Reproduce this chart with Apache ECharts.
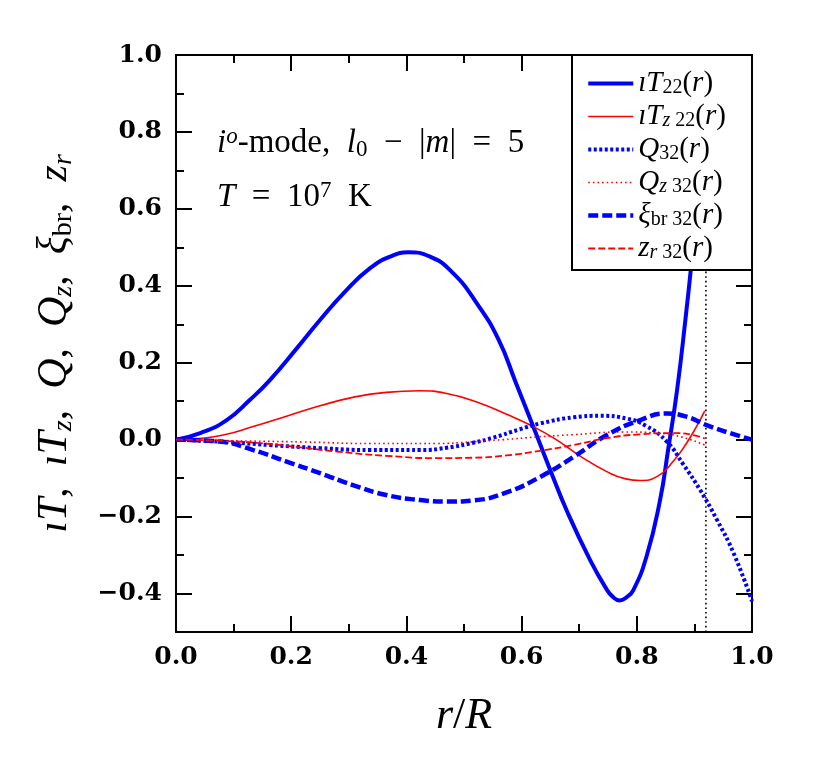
<!DOCTYPE html>
<html><head><meta charset="utf-8">
<script src="https://cdn.jsdelivr.net/npm/echarts@6/dist/echarts.min.js"></script>
<style>html,body{margin:0;padding:0;background:#fff}#c{width:830px;height:760px}</style>
</head><body><div id="c"></div>
<script>
// ---- data ----
const r_iT22 = [0, 0.042, 0.088, 0.128, 0.163, 0.21, 0.25, 0.296, 0.337, 0.372, 0.403, 0.441, 0.481, 0.522, 0.56, 0.59, 0.62, 0.65, 0.68, 0.719, 0.748, 0.758, 0.77, 0.782, 0.794, 0.817, 0.84, 0.855, 0.87, 0.885, 0.895, 0.905, 0.918];
const v_iT22 = [0, 0.017, 0.051, 0.103, 0.155, 0.238, 0.311, 0.389, 0.446, 0.476, 0.487, 0.476, 0.433, 0.355, 0.26, 0.148, 0.035, -0.08, -0.19, -0.313, -0.39, -0.408, -0.418, -0.41, -0.391, -0.303, -0.16, -0.02, 0.13, 0.32, 0.46, 0.61, 0.82];

const r_iTz22 = [0, 0.04, 0.082, 0.134, 0.192, 0.25, 0.307, 0.365, 0.424, 0.47, 0.522, 0.574, 0.615, 0.658, 0.701, 0.748, 0.781, 0.806, 0.835, 0.864, 0.886, 0.904, 0.918];
const v_iTz22 = [0, 0.003, 0.012, 0.034, 0.061, 0.088, 0.11, 0.123, 0.127, 0.12, 0.098, 0.066, 0.038, 0.002, -0.042, -0.083, -0.102, -0.106, -0.096, -0.055, -0.01, 0.035, 0.075];

const r_Q32 = [0, 0.076, 0.163, 0.25, 0.337, 0.424, 0.47, 0.516, 0.55, 0.597, 0.632, 0.69, 0.736, 0.782, 0.817, 0.852, 0.881, 0.91, 0.939, 0.968, 1.0];
const v_Q32 = [0, -0.005, -0.014, -0.022, -0.027, -0.027, -0.021, -0.008, 0.005, 0.027, 0.042, 0.058, 0.062, 0.055, 0.035, -0.005, -0.065, -0.131, -0.208, -0.295, -0.42];

const r_Qz32 = [0, 0.105, 0.221, 0.337, 0.453, 0.51, 0.568, 0.626, 0.69, 0.777, 0.835, 0.875, 0.918];
const v_Qz32 = [0, -0.003, -0.006, -0.01, -0.01, -0.006, 0.0, 0.007, 0.013, 0.02, 0.017, 0.008, -0.014];

const r_xibr32 = [0, 0.076, 0.134, 0.192, 0.25, 0.307, 0.365, 0.424, 0.47, 0.516, 0.574, 0.632, 0.69, 0.748, 0.806, 0.852, 0.886, 0.921, 0.962, 1.0];
const v_xibr32 = [0, -0.005, -0.027, -0.057, -0.087, -0.118, -0.144, -0.157, -0.161, -0.158, -0.137, -0.097, -0.045, 0.012, 0.051, 0.068, 0.06, 0.038, 0.017, 0.0];

const r_zr32 = [0, 0.105, 0.192, 0.279, 0.365, 0.453, 0.516, 0.574, 0.632, 0.69, 0.748, 0.806, 0.864, 0.898, 0.918];
const v_zr32 = [0, -0.005, -0.016, -0.031, -0.042, -0.048, -0.047, -0.041, -0.029, -0.014, 0.004, 0.014, 0.017, 0.012, 0.003];

const r_boundary = 0.92;           // vertical dotted line
const yMajorTicks = [-0.4, -0.2, 0.0, 0.2, 0.4, 0.6, 0.8, 1.0];
const yMinorTicks = [-0.5, -0.3, -0.1, 0.1, 0.3, 0.5, 0.7, 0.9];
const xRange = [0, 1];
const yRange = [-0.5, 1.0];

// ---- helpers ----
const zip = (a, b) => a.map((x, i) => [x, b[i]]);
const SERIF = "'Liberation Serif', 'DejaVu Serif', serif";
const BOLD = "'DejaVu Serif', serif";
const fmt = v => (v < -1e-9 ? '\u2212' : '') + Math.abs(v).toFixed(1);

function richSet(fs, lh, sfs) {
  const sl = Math.round(sfs * 0.6);
  return {
    i: {fontFamily: SERIF, fontStyle: 'italic', fontSize: fs, lineHeight: lh, color: '#000'},
    n: {fontFamily: SERIF, fontSize: fs, lineHeight: lh, color: '#000'},
    s: {fontFamily: SERIF, fontSize: sfs, lineHeight: sl, verticalAlign: 'bottom', color: '#000'},
    si: {fontFamily: SERIF, fontStyle: 'italic', fontSize: sfs, lineHeight: sl, verticalAlign: 'bottom', color: '#000'},
    p: {fontFamily: SERIF, fontSize: sfs, lineHeight: sl, verticalAlign: 'top', color: '#000'},
    pi: {fontFamily: SERIF, fontStyle: 'italic', fontSize: sfs, lineHeight: sl, verticalAlign: 'top', color: '#000'}
  };
}

const labels = {
  iT22: '{i|\u0131T}{s|22}{n|(}{i|r}{n|)}',
  iTz22: '{i|\u0131T}{si|z}{s| 22}{n|(}{i|r}{n|)}',
  Q32: '{i|Q}{s|32}{n|(}{i|r}{n|)}',
  Qz32: '{i|Q}{si|z}{s| 32}{n|(}{i|r}{n|)}',
  xibr32: '{i|\u03BE}{s|br 32}{n|(}{i|r}{n|)}',
  zr32: '{i|z}{si|r}{s| 32}{n|(}{i|r}{n|)}'
};

const styles = {
  iT22: {color: '#0000ff', width: 4, type: 'solid'},
  iTz22: {color: '#ff0000', width: 1.6, type: 'solid'},
  Q32: {color: '#0000ff', width: 4, type: [3, 2.5]},
  Qz32: {color: '#ff0000', width: 1.6, type: [1.6, 3]},
  xibr32: {color: '#0000ff', width: 4.5, type: [10, 4]},
  zr32: {color: '#ff0000', width: 1.8, type: [7, 3]}
};
const seriesData = {
  iT22: zip(r_iT22, v_iT22),
  iTz22: zip(r_iTz22, v_iTz22),
  Q32: zip(r_Q32, v_Q32),
  Qz32: zip(r_Qz32, v_Qz32),
  xibr32: zip(r_xibr32, v_xibr32),
  zr32: zip(r_zr32, v_zr32)
};
const order = ['iT22', 'iTz22', 'Q32', 'Qz32', 'xibr32', 'zr32'];

const lineAx = {show: true, onZero: false, lineStyle: {color: '#000', width: 2}};
function xAx(pos, showLabel, name) {
  return {
    type: 'value', position: pos, min: xRange[0], max: xRange[1], interval: 0.2,
    axisLine: lineAx, splitLine: {show: false},
    axisTick: {show: true, inside: true, length: 16, lineStyle: {color: '#000', width: 2}},
    minorTick: {show: true, splitNumber: 2, length: 8, lineStyle: {color: '#000', width: 2}},
    axisLabel: {show: showLabel, formatter: fmt, margin: 13, fontFamily: BOLD, fontWeight: 'bold', fontSize: 25, color: '#000'},
    name: name || '', nameLocation: 'middle', nameGap: 61,
    nameTextStyle: {rich: richSet(44, 46, 28)}
  };
}
function yAx(pos, ticks, len, showLabel, line, name) {
  return {
    type: 'value', position: pos, min: yRange[0], max: yRange[1],
    axisLine: line ? lineAx : {show: false, onZero: false}, splitLine: {show: false},
    axisTick: {show: true, inside: true, length: len, customValues: ticks, lineStyle: {color: '#000', width: 2}},
    axisLabel: {show: showLabel, customValues: ticks, formatter: fmt, margin: 14, fontFamily: BOLD, fontWeight: 'bold', fontSize: 25, color: '#000'},
    name: name || '', nameLocation: 'middle', nameRotate: 90, nameGap: 98,
    nameTextStyle: {rich: richSet(42, 46, 28)}
  };
}

const series = order.map(k => ({
  name: k, type: 'line', xAxisIndex: 0, yAxisIndex: 0,
  data: seriesData[k], symbol: 'none', showSymbol: false, smooth: true, z: 2,
  lineStyle: {color: styles[k].color, width: styles[k].width, type: styles[k].type, cap: 'butt', join: 'round'},
  itemStyle: {color: styles[k].color},
  emphasis: {disabled: true}, animation: false
}));
series.push({
  name: 'boundary', type: 'line', xAxisIndex: 0, yAxisIndex: 0,
  data: [[r_boundary, yRange[0]], [r_boundary, yRange[1]]], symbol: 'none',
  lineStyle: {color: '#000', width: 1.6, type: [1.6, 3]}, emphasis: {disabled: true}, animation: false, z: 1
});

const SP = '\u2002';
const chart = echarts.init(document.getElementById('c'), null, {renderer: 'canvas'});
chart.setOption({
  animation: false,
  backgroundColor: '#fff',
  grid: {left: 176, top: 55, right: 78, bottom: 128, containLabel: false},
  xAxis: [
    xAx('bottom', true, '{i|r}{n|/}{i|R}'),
    xAx('top', false, '')
  ],
  yAxis: [
    yAx('left', yMajorTicks, 16, true, true,
      '{i|\u0131T}{n|,' + SP + '}{i|\u0131T}{si|z}{n|,' + SP + '}{i|Q}{n|,' + SP + '}{i|Q}{si|z}{n|,' + SP + '}{i|\u03BE}{s|br}{n|,' + SP + '}{i|z}{si|r}'),
    yAx('left', yMinorTicks, 8, false, false, ''),
    yAx('right', yMajorTicks, 16, false, true, ''),
    yAx('right', yMinorTicks, 8, false, false, '')
  ],
  legend: {
    show: true, orient: 'vertical', left: 586, top: 69, padding: 0, z: 6,
    itemWidth: 45, itemHeight: 14, itemGap: 4, selectedMode: false,
    data: order.map(k => ({name: k,
      itemStyle: {color: 'rgba(0,0,0,0)', borderWidth: 0, opacity: 0},
      lineStyle: {color: styles[k].color, width: styles[k].width, type: styles[k].type, cap: 'butt'}})),
    formatter: name => labels[name],
    textStyle: {rich: richSet(29, 28, 20), color: '#000'}
  },
  graphic: [
    {type: 'rect', z: 4, shape: {x: 572, y: 55, width: 180, height: 215}, style: {fill: '#fff', stroke: '#000', lineWidth: 2}},
    {type: 'text', z: 5, x: 217, y: 143, style: {
      text: '{i|i}{pi|o}{n|-mode,' + SP + '}{i|l}{s|0}{n|' + SP + '\u2212' + SP + '|}{i|m}{n||' + SP + '=' + SP + '5}',
      rich: richSet(33, 36, 23), verticalAlign: 'middle', align: 'left'}},
    {type: 'text', z: 5, x: 217, y: 197, style: {
      text: '{i|T}{n|' + SP + '=' + SP + '10}{p|7}{n|' + SP + 'K}',
      rich: richSet(33, 36, 23), verticalAlign: 'middle', align: 'left'}}
  ],
  series: series
});
</script>
</body></html>
